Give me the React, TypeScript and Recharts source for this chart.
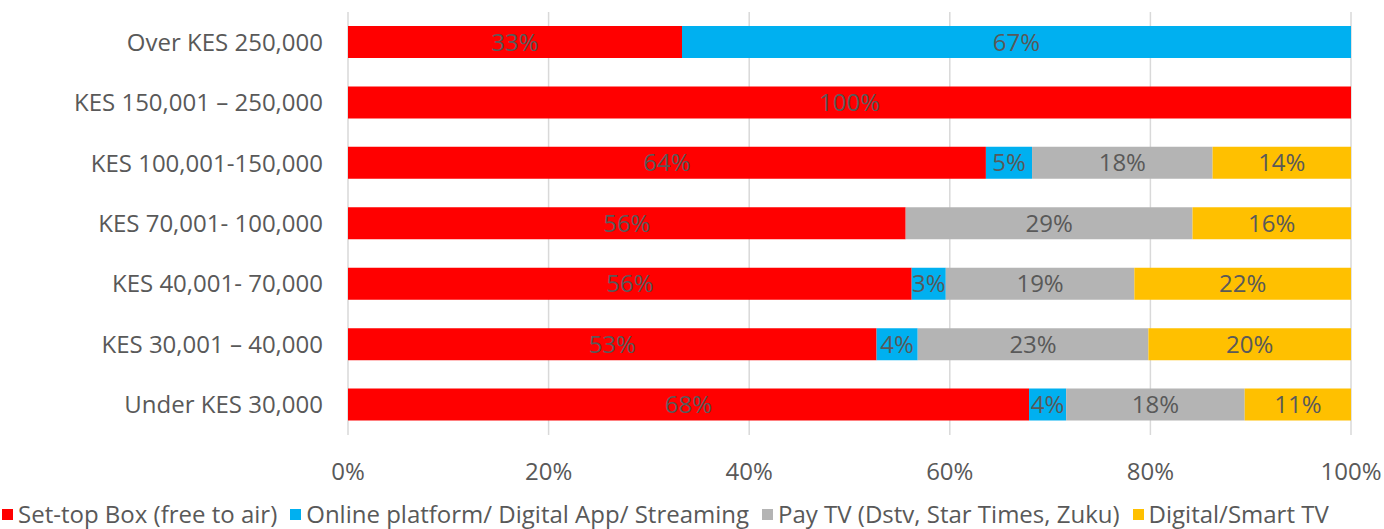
import { BarChart, Bar, XAxis, YAxis, CartesianGrid, Legend, LabelList } from "recharts";

const categories = [
  "Over KES 250,000",
  "KES 150,001 – 250,000",
  "KES 100,001-150,000",
  "KES 70,001- 100,000",
  "KES 40,001-  70,000",
  "KES 30,001 – 40,000",
  "Under KES 30,000",
];
// shares in %
const setTopBox = [33.3, 100, 63.6, 55.6, 56.2, 52.7, 67.9];
const online = [66.7, 0, 4.6, 0, 3.4, 4.1, 3.7];
const payTv = [0, 0, 18.0, 28.6, 18.8, 23.0, 17.8];
const smartTv = [0, 0, 13.8, 15.8, 21.6, 20.2, 10.6];
const xTicks = [0, 0.2, 0.4, 0.6, 0.8, 1];

const SERIES = [
  { key: "setTop", name: "Set-top Box (free to air)", color: "#FF0000" },
  { key: "online", name: "Online platform/ Digital App/ Streaming", color: "#00B0F0" },
  { key: "payTv", name: "Pay TV (Dstv, Star Times, Zuku)", color: "#B4B4B4" },
  { key: "smartTv", name: "Digital/Smart TV", color: "#FFC000" },
];

const data = categories.map((name, i) => ({
  name,
  setTop: setTopBox[i],
  online: online[i],
  payTv: payTv[i],
  smartTv: smartTv[i],
}));

const FONT = "'Open Sans', sans-serif";
const TEXT = "#595959";
const FS = 24;

const renderLegend = () => (
  <div
    style={{
      height: 44,
      display: "flex",
      alignItems: "flex-end",
      gap: 13,
      fontSize: FS,
      fontFamily: FONT,
      color: TEXT,
      whiteSpace: "nowrap",
      lineHeight: "30px",
    }}
  >
    {SERIES.map((s) => (
      <span key={s.key} style={{ display: "inline-flex", alignItems: "center" }}>
        <span style={{ width: 11, height: 11, background: s.color, marginRight: 5, display: "inline-block" }} />
        {s.name}
      </span>
    ))}
  </div>
);

export default function App() {
  return (
    <div style={{ width: 1384, height: 529, fontFamily: FONT }}>
      <style>{`body{margin:0}`}</style>
      <BarChart
        width={1384}
        height={529}
        data={data}
        layout="vertical"
        stackOffset="expand"
        margin={{ top: 12, right: 33, left: 0, bottom: 0 }}
        barSize={32}
      >
        <CartesianGrid horizontal={false} stroke="#D9D9D9" strokeWidth={1.5} />
        <XAxis
          type="number"
          domain={[0, 1]}
          ticks={xTicks}
          tickFormatter={(v: number) => `${Math.round(v * 100)}%`}
          axisLine={false}
          tickLine={false}
          tickSize={0}
          tickMargin={28}
          height={50}
          tick={{ fill: TEXT, fontSize: FS, fontFamily: FONT }}
        />
        <YAxis
          type="category"
          dataKey="name"
          width={348}
          axisLine={false}
          tickLine={false}
          tickSize={0}
          tickMargin={25}
          tick={{ fill: TEXT, fontSize: FS, fontFamily: FONT }}
        />
        <Legend verticalAlign="bottom" align="left" wrapperStyle={{ left: 2, bottom: 0 }} content={renderLegend} />
        {SERIES.map((s) => (
          <Bar key={s.key} dataKey={s.key} name={s.name} stackId="a" fill={s.color} isAnimationActive={false}>
            <LabelList
              dataKey={s.key}
              position="center"
              fill={TEXT}
              fontSize={FS}
              fontFamily={FONT}
              formatter={(v: any) => (v ? `${Math.round(v)}%` : "")}
            />
          </Bar>
        ))}
      </BarChart>
    </div>
  );
}
